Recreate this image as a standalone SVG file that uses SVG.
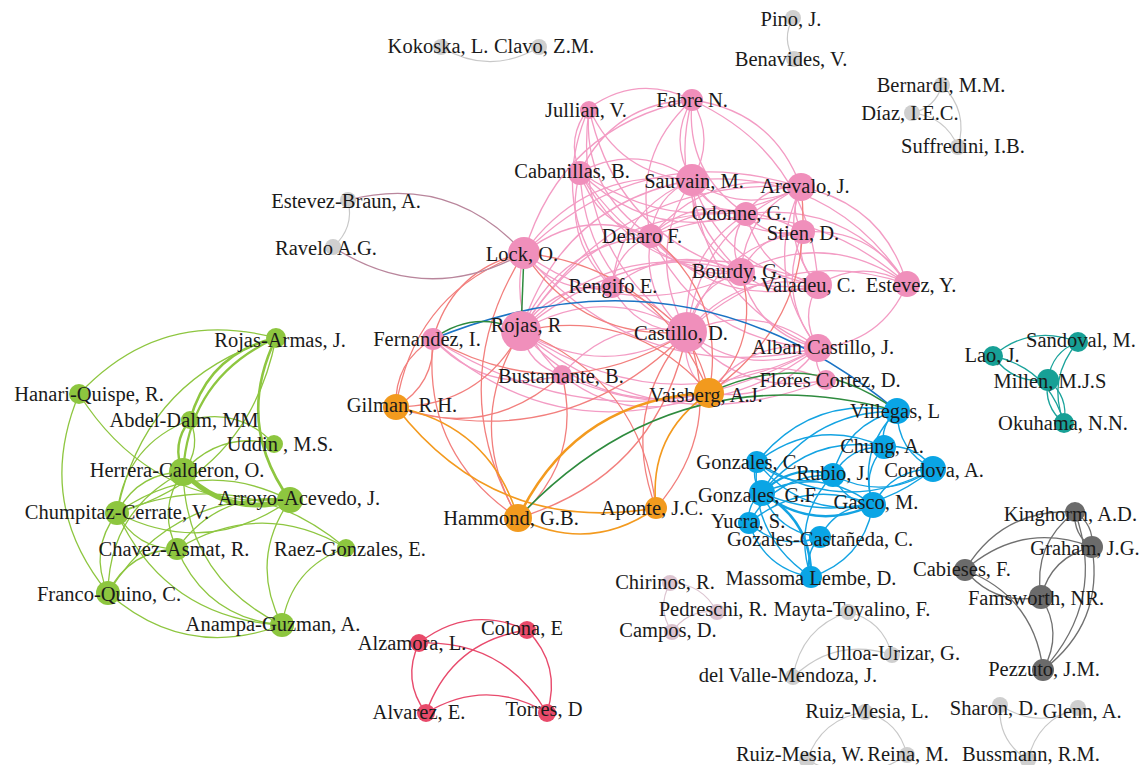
<svg xmlns="http://www.w3.org/2000/svg" xmlns:xlink="http://www.w3.org/1999/xlink" width="1139" height="765" viewBox="0 0 1139 765">
<defs>
<path id="c" d="M0 0Q.5 .3 1 0" fill="none" vector-effect="non-scaling-stroke"/>
<path id="s" d="M0 0L1 0" fill="none" vector-effect="non-scaling-stroke"/>
<style>
text{font-family:"Liberation Serif",serif;font-size:20.5px;fill:#1a1a1a;text-anchor:middle}
.ep{stroke:#f39cc4;stroke-width:1.3}
.es{stroke:#f27f7d;stroke-width:1.3}
.eo{stroke:#f39a1f;stroke-width:1.6}
.eg{stroke:#8ec640;stroke-width:1.3}
.ed{stroke:#2e8b3e;stroke-width:1.5}
.eb{stroke:#1a73c4;stroke-width:1.6}
.ec{stroke:#13a3e2;stroke-width:1.4}
.et{stroke:#1aa39b;stroke-width:1.3}
.ek{stroke:#707070;stroke-width:1.3}
.el{stroke:#c8c8c8;stroke-width:1.2}
.em{stroke:#b9869c;stroke-width:1.3}
.en{stroke:#dcc4d0;stroke-width:1.2}
.er{stroke:#e84a6c;stroke-width:1.4}
.p{fill:#f08fbb}.o{fill:#f29a1e}.b{fill:#0aa5e5}.t{fill:#17a096}.g{fill:#8dc63f}.r{fill:#e84a6a}.k{fill:#6b6b6b}.l{fill:#cfcfcf}.m{fill:#dcc4d0}
</style>
</defs>
<rect width="1139" height="765" fill="#fff"/>
<g id="edges">
<g class="ep">
<use href="#c" transform="matrix(-103 8 -8 -103 692 100)"/>
<use href="#c" transform="matrix(-9 64 -64 -9 589 108)"/>
<use href="#c" transform="matrix(103 72 -72 103 589 108)"/>
<use href="#c" transform="matrix(62 128 -128 62 589 108)"/>
<use href="#c" transform="matrix(23 179 -179 23 589 108)"/>
<use href="#c" transform="matrix(152 164 -164 152 589 108)"/>
<use href="#c" transform="matrix(98 224 -224 98 589 108)"/>
<use href="#c" transform="matrix(0 80 -80 0 692 100)"/>
<use href="#c" transform="matrix(0 -80 80 0 692 180)"/>
<use href="#c" transform="matrix(-109 -87 87 -109 801 187)"/>
<use href="#c" transform="matrix(-112 72 -72 -112 692 100)"/>
<use href="#c" transform="matrix(-41 136 -136 -41 692 100)"/>
<use href="#c" transform="matrix(54 114 -114 54 692 100)"/>
<use href="#c" transform="matrix(49 172 -172 49 692 100)"/>
<use href="#c" transform="matrix(-126 -185 185 -126 818 285)"/>
<use href="#c" transform="matrix(-168 153 -153 -168 692 100)"/>
<use href="#c" transform="matrix(-112 -8 8 -112 692 180)"/>
<use href="#c" transform="matrix(221 15 -15 221 580 172)"/>
<use href="#c" transform="matrix(71 64 -64 71 580 172)"/>
<use href="#c" transform="matrix(166 42 -42 166 580 172)"/>
<use href="#c" transform="matrix(32 115 -115 32 580 172)"/>
<use href="#c" transform="matrix(161 100 -100 161 580 172)"/>
<use href="#c" transform="matrix(107 160 -160 107 580 172)"/>
<use href="#c" transform="matrix(238 113 -113 238 580 172)"/>
<use href="#c" transform="matrix(109 7 -7 109 692 180)"/>
<use href="#c" transform="matrix(54 34 -34 54 692 180)"/>
<use href="#c" transform="matrix(111 52 -52 111 692 180)"/>
<use href="#c" transform="matrix(-41 56 -56 -41 692 180)"/>
<use href="#c" transform="matrix(49 92 -92 49 692 180)"/>
<use href="#c" transform="matrix(126 105 -105 126 692 180)"/>
<use href="#c" transform="matrix(-215 -104 104 -215 907 284)"/>
<use href="#c" transform="matrix(-168 73 -73 -168 692 180)"/>
<use href="#c" transform="matrix(-5 152 -152 -5 692 180)"/>
<use href="#c" transform="matrix(-80 107 -107 -80 692 180)"/>
<use href="#c" transform="matrix(-171 151 -151 -171 692 180)"/>
<use href="#c" transform="matrix(126 168 -168 126 692 180)"/>
<use href="#c" transform="matrix(-55 27 -27 -55 801 187)"/>
<use href="#c" transform="matrix(2 45 -45 2 801 187)"/>
<use href="#c" transform="matrix(-150 49 -49 -150 801 187)"/>
<use href="#c" transform="matrix(-60 85 -85 -60 801 187)"/>
<use href="#c" transform="matrix(17 98 -98 17 801 187)"/>
<use href="#c" transform="matrix(-106 -97 97 -106 907 284)"/>
<use href="#c" transform="matrix(-114 145 -145 -114 801 187)"/>
<use href="#c" transform="matrix(17 161 -161 17 801 187)"/>
<use href="#c" transform="matrix(-280 144 -144 -280 801 187)"/>
<use href="#c" transform="matrix(-277 66 -66 -277 801 187)"/>
<use href="#c" transform="matrix(57 18 -18 57 746 214)"/>
<use href="#c" transform="matrix(-95 22 -22 -95 746 214)"/>
<use href="#c" transform="matrix(-5 58 -58 -5 746 214)"/>
<use href="#c" transform="matrix(72 71 -71 72 746 214)"/>
<use href="#c" transform="matrix(-161 -70 70 -161 907 284)"/>
<use href="#c" transform="matrix(-59 118 -118 -59 746 214)"/>
<use href="#c" transform="matrix(-225 117 -117 -225 746 214)"/>
<use href="#c" transform="matrix(-152 4 -4 -152 803 232)"/>
<use href="#c" transform="matrix(-62 40 -40 -62 803 232)"/>
<use href="#c" transform="matrix(15 53 -53 15 803 232)"/>
<use href="#c" transform="matrix(-104 -52 52 -104 907 284)"/>
<use href="#c" transform="matrix(15 116 -116 15 803 232)"/>
<use href="#c" transform="matrix(-116 100 -100 -116 803 232)"/>
<use href="#c" transform="matrix(90 36 -36 90 651 236)"/>
<use href="#c" transform="matrix(167 49 -49 167 651 236)"/>
<use href="#c" transform="matrix(-127 17 -17 -127 651 236)"/>
<use href="#c" transform="matrix(-39 51 -51 -39 651 236)"/>
<use href="#c" transform="matrix(-130 95 -95 -130 651 236)"/>
<use href="#c" transform="matrix(36 96 -96 36 651 236)"/>
<use href="#c" transform="matrix(167 112 -112 167 651 236)"/>
<use href="#c" transform="matrix(-256 -48 48 -256 907 284)"/>
<use href="#c" transform="matrix(88 34 -34 88 524 253)"/>
<use href="#c" transform="matrix(38 122 -122 38 524 253)"/>
<use href="#c" transform="matrix(217 19 -19 217 524 253)"/>
<use href="#c" transform="matrix(294 95 -95 294 524 253)"/>
<use href="#c" transform="matrix(77 13 -13 77 741 272)"/>
<use href="#c" transform="matrix(-166 -12 12 -166 907 284)"/>
<use href="#c" transform="matrix(77 76 -76 77 741 272)"/>
<use href="#c" transform="matrix(-54 60 -60 -54 741 272)"/>
<use href="#c" transform="matrix(-220 59 -59 -220 741 272)"/>
<use href="#c" transform="matrix(-129 15 -15 -129 741 272)"/>
<use href="#c" transform="matrix(-89 1 -1 -89 907 284)"/>
<use href="#c" transform="matrix(0 63 -63 0 818 285)"/>
<use href="#c" transform="matrix(-131 47 -47 -131 818 285)"/>
<use href="#c" transform="matrix(-297 46 -46 -297 818 285)"/>
<use href="#c" transform="matrix(89 -64 64 89 818 348)"/>
<use href="#c" transform="matrix(-220 48 -48 -220 907 284)"/>
<use href="#c" transform="matrix(-91 44 -44 -91 612 287)"/>
<use href="#c" transform="matrix(75 45 -45 75 612 287)"/>
<use href="#c" transform="matrix(166 1 -1 166 521 331)"/>
<use href="#c" transform="matrix(-166 -1 1 -166 687 332)"/>
<use href="#c" transform="matrix(41 44 -44 41 521 331)"/>
<use href="#c" transform="matrix(297 17 -17 297 521 331)"/>
<use href="#c" transform="matrix(305 49 -49 305 521 331)"/>
<use href="#c" transform="matrix(129 36 -36 129 433 339)"/>
<use href="#c" transform="matrix(385 9 -9 385 433 339)"/>
<use href="#c" transform="matrix(276 54 -54 276 433 339)"/>
<use href="#c" transform="matrix(-131 -16 16 -131 818 348)"/>
<use href="#c" transform="matrix(131 16 -16 131 687 332)"/>
<use href="#c" transform="matrix(-125 43 -43 -125 687 332)"/>
<use href="#c" transform="matrix(139 48 -48 139 687 332)"/>
<use href="#c" transform="matrix(22 61 -61 22 687 332)"/>
<use href="#c" transform="matrix(8 32 -32 8 818 348)"/>
<use href="#c" transform="matrix(109 -45 45 109 709 393)"/>
<use href="#c" transform="matrix(-109 45 -45 -109 818 348)"/>
<use href="#c" transform="matrix(-117 13 -13 -117 826 380)"/>
<use href="#c" transform="matrix(147 18 -18 147 562 375)"/>
<use href="#c" transform="matrix(188 62 -62 188 521 331)"/>
<use href="#c" transform="matrix(256 -27 27 256 562 375)"/>
</g>
<g class="es">
<use href="#c" transform="matrix(37 -68 68 37 396 407)"/>
<use href="#c" transform="matrix(-37 68 -68 -37 433 339)"/>
<use href="#c" transform="matrix(-128 154 -154 -128 524 253)"/>
<use href="#c" transform="matrix(125 -76 76 125 396 407)"/>
<use href="#c" transform="matrix(291 -75 75 291 396 407)"/>
<use href="#c" transform="matrix(166 -32 32 166 396 407)"/>
<use href="#c" transform="matrix(-6 265 -265 -6 524 253)"/>
<use href="#c" transform="matrix(-3 187 -187 -3 521 331)"/>
<use href="#c" transform="matrix(85 179 -179 85 433 339)"/>
<use href="#c" transform="matrix(169 -186 186 169 518 518)"/>
<use href="#c" transform="matrix(44 -143 143 44 518 518)"/>
<use href="#c" transform="matrix(-135 -177 177 -135 656 508)"/>
<use href="#c" transform="matrix(31 -176 176 31 656 508)"/>
<use href="#c" transform="matrix(-31 176 -176 -31 687 332)"/>
<use href="#c" transform="matrix(-185 -140 140 -185 709 393)"/>
<use href="#c" transform="matrix(92 -206 206 92 709 393)"/>
<use href="#c" transform="matrix(32 -121 121 32 709 393)"/>
<use href="#c" transform="matrix(-58 -157 157 -58 709 393)"/>
<use href="#c" transform="matrix(-97 -106 106 -97 709 393)"/>
<use href="#c" transform="matrix(-188 -62 62 -188 709 393)"/>
<use href="#c" transform="matrix(254 -7 7 254 433 339)"/>
<use href="#c" transform="matrix(163 79 -79 163 524 253)"/>
<use href="#c" transform="matrix(-91 86 -86 -91 524 253)"/>
</g>
<g class="eo">
<use href="#c" transform="matrix(-191 125 -125 -191 709 393)" style="stroke-width:2.6"/>
<use href="#c" transform="matrix(260 101 -101 260 396 407)"/>
<use href="#c" transform="matrix(-122 -111 111 -122 518 518)"/>
<use href="#c" transform="matrix(138 -10 10 138 518 518)"/>
<use href="#c" transform="matrix(-53 115 -115 -53 709 393)"/>
</g>
<g class="eb">
<use href="#c" transform="matrix(-464 -72 72 -464 897 411)"/>
</g>
<g class="ed">
<use href="#c" transform="matrix(-188 -18 18 -188 897 411)"/>
<use href="#c" transform="matrix(-379 107 -107 -379 897 411)"/>
<use href="#s" transform="matrix(-3 78 -78 -3 524 253)"/>
<use href="#c" transform="matrix(-88 8 -8 -88 521 331)"/>
</g>
<g class="el">
<use href="#c" transform="matrix(98 0 0 98 441 47)"/>
<use href="#c" transform="matrix(1 41 -41 1 793 18)"/>
<use href="#c" transform="matrix(-16 -62 62 -16 958 147)"/>
<use href="#c" transform="matrix(30 -28 28 30 912 113)"/>
<use href="#c" transform="matrix(-46 -34 34 -46 958 147)"/>
<use href="#c" transform="matrix(15 -47 47 15 333 247)"/>
<use href="#c" transform="matrix(-55 65 -65 -55 848 612)"/>
<use href="#c" transform="matrix(-44 -43 43 -44 892 655)"/>
<use href="#c" transform="matrix(-99 22 -22 -99 892 655)"/>
<use href="#c" transform="matrix(-58 48 -48 -58 865 712)"/>
<use href="#c" transform="matrix(-42 -43 43 -42 907 755)"/>
<use href="#c" transform="matrix(100 -5 5 100 807 760)"/>
<use href="#c" transform="matrix(78 3 -3 78 1000 705)"/>
<use href="#c" transform="matrix(28 55 -55 28 1000 705)"/>
<use href="#c" transform="matrix(-50 52 -52 -50 1078 708)"/>
</g>
<g class="em">
<use href="#c" transform="matrix(-176 -53 53 -176 524 253)"/>
<use href="#c" transform="matrix(191 6 -6 191 333 247)"/>
</g>
<g class="en">
<use href="#c" transform="matrix(2 49 -49 2 670 583)"/>
<use href="#c" transform="matrix(-47 -29 29 -47 717 612)"/>
<use href="#c" transform="matrix(-45 20 -20 -45 717 612)"/>
</g>
<g class="er">
<use href="#c" transform="matrix(-108 13 -13 -108 527 630)"/>
<use href="#c" transform="matrix(7 70 -70 7 419 643)"/>
<use href="#c" transform="matrix(-20 -83 83 -20 547 713)"/>
<use href="#c" transform="matrix(-121 0 0 -121 547 713)"/>
<use href="#c" transform="matrix(-128 -70 70 -128 547 713)"/>
<use href="#c" transform="matrix(-101 83 -83 -101 527 630)"/>
</g>
<g class="et">
<use href="#c" transform="matrix(-85 14 -14 -85 1078 342)"/>
<use href="#c" transform="matrix(55 24 -24 55 993 356)"/>
<use href="#c" transform="matrix(-71 -67 67 -71 1064 423)"/>
<use href="#c" transform="matrix(-30 38 -38 -30 1078 342)"/>
<use href="#c" transform="matrix(-14 81 -81 -14 1078 342)"/>
<use href="#c" transform="matrix(16 43 -43 16 1048 380)"/>
<use href="#c" transform="matrix(-16 -43 43 -16 1064 423)"/>
</g>
<g class="ek">
<use href="#c" transform="matrix(-110 58 -58 -110 1075 512)"/>
<use href="#c" transform="matrix(-127 23 -23 -127 1092 547)"/>
<use href="#c" transform="matrix(76 27 -27 76 965 570)"/>
<use href="#c" transform="matrix(-78 -100 100 -78 1043 670)"/>
<use href="#c" transform="matrix(17 35 -35 17 1075 512)"/>
<use href="#c" transform="matrix(-17 -35 35 -17 1092 547)"/>
<use href="#c" transform="matrix(-34 85 -85 -34 1075 512)"/>
<use href="#c" transform="matrix(-51 50 -50 -51 1092 547)"/>
<use href="#c" transform="matrix(-2 -73 73 -2 1043 670)"/>
<use href="#c" transform="matrix(32 -158 158 32 1043 670)"/>
<use href="#c" transform="matrix(49 -123 123 49 1043 670)"/>
</g>
<g class="eg">
<use href="#c" transform="matrix(-197 56 -56 -197 276 338)"/>
<use href="#c" transform="matrix(29 199 -199 29 79 394)"/>
<use href="#c" transform="matrix(174 32 -32 174 108 593)"/>
<use href="#c" transform="matrix(14 162 -162 14 276 338)" style="stroke-width:2.6"/>
<use href="#c" transform="matrix(-86 82 -82 -86 276 338)" style="stroke-width:2.6"/>
<use href="#c" transform="matrix(-93 134 -134 -93 276 338)" style="stroke-width:2.2"/>
<use href="#c" transform="matrix(-159 175 -175 -159 276 338)"/>
<use href="#c" transform="matrix(159 -175 175 159 117 513)"/>
<use href="#c" transform="matrix(211 106 -106 211 79 394)"/>
<use href="#c" transform="matrix(-7 52 -52 -7 190 420)" style="stroke-width:2.4"/>
<use href="#c" transform="matrix(7 -52 52 7 183 472)"/>
<use href="#c" transform="matrix(-84 -24 24 -84 274 444)"/>
<use href="#c" transform="matrix(-73 93 -93 -73 190 420)"/>
<use href="#c" transform="matrix(-91 28 -28 -91 274 444)"/>
<use href="#c" transform="matrix(107 28 -28 107 183 472)" style="stroke-width:5"/>
<use href="#c" transform="matrix(-66 41 -41 -66 183 472)"/>
<use href="#c" transform="matrix(-6 77 -77 -6 183 472)"/>
<use href="#c" transform="matrix(-75 121 -121 -75 183 472)"/>
<use href="#c" transform="matrix(99 153 -153 99 183 472)"/>
<use href="#c" transform="matrix(-173 13 -13 -173 290 500)"/>
<use href="#c" transform="matrix(173 -13 13 173 117 513)"/>
<use href="#c" transform="matrix(-113 49 -49 -113 290 500)"/>
<use href="#c" transform="matrix(-182 93 -93 -182 290 500)"/>
<use href="#c" transform="matrix(-8 125 -125 -8 290 500)"/>
<use href="#c" transform="matrix(-229 -35 35 -229 346 548)"/>
<use href="#c" transform="matrix(60 36 -36 60 117 513)"/>
<use href="#c" transform="matrix(-9 80 -80 -9 117 513)"/>
<use href="#c" transform="matrix(165 112 -112 165 117 513)"/>
<use href="#c" transform="matrix(-69 44 -44 -69 177 549)"/>
<use href="#c" transform="matrix(105 76 -76 105 177 549)"/>
<use href="#c" transform="matrix(-169 1 -1 -169 346 548)"/>
<use href="#c" transform="matrix(-64 77 -77 -64 346 548)"/>
</g>
<g class="ec">
<use href="#c" transform="matrix(-140 51 -51 -140 897 411)"/>
<use href="#c" transform="matrix(-13 36 -36 -13 897 411)"/>
<use href="#c" transform="matrix(36 58 -58 36 897 411)"/>
<use href="#c" transform="matrix(-64 64 -64 -64 897 411)"/>
<use href="#c" transform="matrix(-135 82 -82 -135 897 411)"/>
<use href="#c" transform="matrix(-24 94 -94 -24 897 411)"/>
<use href="#c" transform="matrix(-49 -22 22 -49 933 469)"/>
<use href="#c" transform="matrix(-51 28 -28 -51 884 447)"/>
<use href="#c" transform="matrix(-11 58 -58 -11 884 447)"/>
<use href="#c" transform="matrix(-127 15 -15 -127 884 447)"/>
<use href="#c" transform="matrix(-122 46 -46 -122 884 447)"/>
<use href="#c" transform="matrix(100 -6 6 100 833 475)"/>
<use href="#c" transform="matrix(-60 36 -36 -60 933 469)"/>
<use href="#c" transform="matrix(171 -24 24 171 762 493)"/>
<use href="#c" transform="matrix(176 7 -7 176 757 462)"/>
<use href="#c" transform="matrix(76 13 -13 76 757 462)"/>
<use href="#c" transform="matrix(-71 18 -18 -71 833 475)" style="stroke-width:2.2"/>
<use href="#c" transform="matrix(40 30 -30 40 833 475)"/>
<use href="#c" transform="matrix(-84 48 -48 -84 833 475)"/>
<use href="#c" transform="matrix(-22 102 -102 -22 833 475)"/>
<use href="#c" transform="matrix(5 31 -31 5 757 462)"/>
<use href="#c" transform="matrix(116 43 -43 116 757 462)"/>
<use href="#c" transform="matrix(111 12 -12 111 762 493)" style="stroke-width:2.4"/>
<use href="#c" transform="matrix(-111 -12 12 -111 873 505)"/>
<use href="#c" transform="matrix(-13 30 -30 -13 762 493)"/>
<use href="#c" transform="matrix(58 44 -44 58 762 493)"/>
<use href="#c" transform="matrix(-49 -84 84 -49 811 577)" style="stroke-width:2.6"/>
<use href="#c" transform="matrix(-124 18 -18 -124 873 505)"/>
<use href="#c" transform="matrix(-53 32 -32 -53 873 505)"/>
<use href="#c" transform="matrix(62 -72 72 62 811 577)"/>
<use href="#c" transform="matrix(62 54 -54 62 749 523)"/>
<use href="#c" transform="matrix(-9 40 -40 -9 820 537)"/>
<use href="#c" transform="matrix(54 115 -115 54 757 462)"/>
<use href="#c" transform="matrix(71 14 -14 71 749 523)"/>
</g>
</g>
<g id="n-kokoska"><circle class="l" cx="441" cy="47" r="8"/><text x="438" y="53">Kokoska, L.</text></g>
<g id="n-clavo"><circle class="l" cx="539" cy="47" r="8"/><text x="544" y="53">Clavo, Z.M.</text></g>
<g id="n-pino"><circle class="l" cx="793" cy="18" r="8"/><text x="791" y="26">Pino, J.</text></g>
<g id="n-benavides"><circle class="l" cx="794" cy="59" r="8"/><text x="791" y="66">Benavides, V.</text></g>
<g id="n-bernardi"><circle class="l" cx="942" cy="85" r="8"/><text x="941" y="92">Bernardi, M.M.</text></g>
<g id="n-diaz"><circle class="l" cx="912" cy="113" r="8"/><text x="910" y="120">Díaz, I.E.C.</text></g>
<g id="n-suffredini"><circle class="l" cx="958" cy="147" r="8"/><text x="963" y="153">Suffredini, I.B.</text></g>
<g id="n-estevez-braun"><circle class="l" cx="348" cy="200" r="8"/><text x="346" y="208">Estevez-Braun, A.</text></g>
<g id="n-ravelo"><circle class="l" cx="333" cy="247" r="8"/><text x="326" y="255">Ravelo A.G.</text></g>
<g id="n-jullian"><circle class="p" cx="589" cy="110" r="9"/><text x="586" y="117">Jullian, V.</text></g>
<g id="n-fabre"><circle class="p" cx="692" cy="100" r="11"/><text x="692" y="107">Fabre N.</text></g>
<g id="n-cabanillas"><circle class="p" cx="580" cy="173" r="12"/><text x="572" y="178">Cabanillas, B.</text></g>
<g id="n-sauvain"><circle class="p" cx="692" cy="180" r="16"/><text x="694" y="188">Sauvain, M.</text></g>
<g id="n-arevalo"><circle class="p" cx="801" cy="187" r="14"/><text x="805" y="193">Arevalo, J.</text></g>
<g id="n-odonne"><circle class="p" cx="746" cy="214" r="12"/><text x="739" y="220">Odonne, G.</text></g>
<g id="n-stien"><circle class="p" cx="803" cy="232" r="12"/><text x="803" y="240">Stien, D.</text></g>
<g id="n-deharo"><circle class="p" cx="651" cy="236" r="12"/><text x="642" y="243">Deharo F.</text></g>
<g id="n-lock"><circle class="p" cx="524" cy="253" r="16"/><text x="522" y="261">Lock, O.</text></g>
<g id="n-bourdy"><circle class="p" cx="741" cy="272" r="14"/><text x="737" y="278">Bourdy, G.</text></g>
<g id="n-valadeu"><circle class="p" cx="818" cy="285" r="14"/><text x="808" y="292">Valadeu, C.</text></g>
<g id="n-estevez-y"><circle class="p" cx="907" cy="284" r="13"/><text x="911" y="292">Estevez, Y.</text></g>
<g id="n-rengifo"><circle class="p" cx="612" cy="287" r="11"/><text x="613" y="293">Rengifo E.</text></g>
<g id="n-rojas-r"><circle class="p" cx="521" cy="331" r="20"/><text x="526" y="332">Rojas, R</text></g>
<g id="n-fernandez"><circle class="p" cx="433" cy="339" r="11"/><text x="427" y="346">Fernandez, I.</text></g>
<g id="n-castillo"><circle class="p" cx="687" cy="332" r="20"/><text x="681" y="340">Castillo, D.</text></g>
<g id="n-bustamante"><circle class="p" cx="562" cy="375" r="10"/><text x="561" y="383">Bustamante, B.</text></g>
<g id="n-alban"><circle class="p" cx="818" cy="348" r="14"/><text x="823" y="354">Alban Castillo, J.</text></g>
<g id="n-flores"><circle class="p" cx="826" cy="380" r="10"/><text x="830" y="387">Flores Cortez, D.</text></g>
<g id="n-gilman"><circle class="o" cx="396" cy="407" r="13"/><text x="402" y="412">Gilman, R.H.</text></g>
<g id="n-vaisberg"><circle class="o" cx="709" cy="393" r="15"/><text x="706" y="402">Vaisberg, A.J.</text></g>
<g id="n-hammond"><circle class="o" cx="518" cy="518" r="14"/><text x="511" y="525">Hammond, G.B.</text></g>
<g id="n-aponte"><circle class="o" cx="656" cy="508" r="11"/><text x="652" y="515">Aponte, J.C.</text></g>
<g id="n-villegas"><circle class="b" cx="897" cy="411" r="13"/><text x="895" y="418">Villegas, L</text></g>
<g id="n-chung"><circle class="b" cx="884" cy="447" r="12"/><text x="882" y="453">Chung, A.</text></g>
<g id="n-cordova"><circle class="b" cx="933" cy="469" r="13"/><text x="934" y="477">Cordova, A.</text></g>
<g id="n-rubio"><circle class="b" cx="833" cy="475" r="12"/><text x="833" y="480">Rubio, J.</text></g>
<g id="n-gonzales-c"><circle class="b" cx="757" cy="462" r="11"/><text x="749" y="469">Gonzales, C.</text></g>
<g id="n-gonzales-gf"><circle class="b" cx="762" cy="493" r="13"/><text x="757" y="502">Gonzales, G.F</text></g>
<g id="n-gasco"><circle class="b" cx="873" cy="505" r="13"/><text x="876" y="509">Gasco, M.</text></g>
<g id="n-yucra"><circle class="b" cx="749" cy="523" r="11"/><text x="748" y="528">Yucra, S.</text></g>
<g id="n-gozales-castaneda"><circle class="b" cx="820" cy="537" r="11"/><text x="820" y="546">Gozales-Castañeda, C.</text></g>
<g id="n-massoma"><circle class="b" cx="811" cy="577" r="11"/><text x="811" y="585">Massoma Lembe, D.</text></g>
<g id="n-lao"><circle class="t" cx="993" cy="356" r="10"/><text x="992" y="362">Lao, J.</text></g>
<g id="n-sandoval"><circle class="t" cx="1078" cy="342" r="10"/><text x="1081" y="347">Sandoval, M.</text></g>
<g id="n-millen"><circle class="t" cx="1048" cy="380" r="11"/><text x="1050" y="388">Millen, M.J.S</text></g>
<g id="n-okuhama"><circle class="t" cx="1064" cy="423" r="10"/><text x="1063" y="430">Okuhama, N.N.</text></g>
<g id="n-kinghorm"><circle class="k" cx="1075" cy="512" r="10"/><text x="1137" y="521" style="text-anchor:end">Kinghorm, A.D.</text></g>
<g id="n-graham"><circle class="k" cx="1092" cy="547" r="11"/><text x="1085" y="555">Graham, J.G.</text></g>
<g id="n-cabieses"><circle class="k" cx="965" cy="570" r="11"/><text x="962" y="576">Cabieses, F.</text></g>
<g id="n-famsworth"><circle class="k" cx="1041" cy="597" r="12"/><text x="1036" y="605">Famsworth, NR.</text></g>
<g id="n-pezzuto"><circle class="k" cx="1043" cy="670" r="11"/><text x="1044" y="676">Pezzuto, J.M.</text></g>
<g id="n-chirinos"><circle class="m" cx="670" cy="583" r="8"/><text x="665" y="589">Chirinos, R.</text></g>
<g id="n-pedreschi"><circle class="m" cx="717" cy="612" r="8"/><text x="713" y="616">Pedreschi, R.</text></g>
<g id="n-campos"><circle class="m" cx="672" cy="632" r="8"/><text x="668" y="637">Campos, D.</text></g>
<g id="n-mayta"><circle class="l" cx="848" cy="612" r="8"/><text x="852" y="616">Mayta-Toyalino, F.</text></g>
<g id="n-ulloa"><circle class="l" cx="892" cy="655" r="8"/><text x="893" y="660">Ulloa-Urizar, G.</text></g>
<g id="n-delvalle"><circle class="l" cx="793" cy="677" r="8"/><text x="788" y="682">del Valle-Mendoza, J.</text></g>
<g id="n-ruiz-l"><circle class="l" cx="865" cy="712" r="8"/><text x="867" y="718">Ruiz-Mesia, L.</text></g>
<g id="n-ruiz-w"><circle class="l" cx="807" cy="760" r="8"/><text x="800" y="761">Ruiz-Mesia, W.</text></g>
<g id="n-reina"><circle class="l" cx="907" cy="755" r="8"/><text x="908" y="761">Reina, M.</text></g>
<g id="n-sharon"><circle class="l" cx="1000" cy="705" r="8"/><text x="994" y="715">Sharon, D.</text></g>
<g id="n-glenn"><circle class="l" cx="1078" cy="708" r="8"/><text x="1082" y="718">Glenn, A.</text></g>
<g id="n-bussmann"><circle class="l" cx="1028" cy="760" r="8"/><text x="1031" y="761">Bussmann, R.M.</text></g>
<g id="n-alzamora"><circle class="r" cx="419" cy="643" r="9"/><text x="412" y="650">Alzamora, L.</text></g>
<g id="n-colona"><circle class="r" cx="527" cy="630" r="9"/><text x="522" y="635">Colona, E</text></g>
<g id="n-alvarez"><circle class="r" cx="426" cy="713" r="9"/><text x="419" y="719">Alvarez, E.</text></g>
<g id="n-torres"><circle class="r" cx="547" cy="713" r="9"/><text x="544" y="716">Torres, D</text></g>
<g id="n-rojas-armas"><circle class="g" cx="276" cy="338" r="10"/><text x="280" y="347">Rojas-Armas, J.</text></g>
<g id="n-hanari"><circle class="g" cx="79" cy="394" r="10"/><text x="89" y="401">Hanari-Quispe, R.</text></g>
<g id="n-abdel"><circle class="g" cx="190" cy="420" r="9"/><text x="184" y="427">Abdel-Dalm, MM</text></g>
<g id="n-uddin"><circle class="g" cx="274" cy="444" r="9"/><text x="280" y="451">Uddin , M.S.</text></g>
<g id="n-herrera"><circle class="g" cx="183" cy="472" r="14"/><text x="177" y="477">Herrera-Calderon, O.</text></g>
<g id="n-arroyo"><circle class="g" cx="290" cy="500" r="13"/><text x="299" y="505">Arroyo-Acevedo, J.</text></g>
<g id="n-chumpitaz"><circle class="g" cx="117" cy="513" r="12"/><text x="117" y="519">Chumpitaz-Cerrate, V.</text></g>
<g id="n-chavez"><circle class="g" cx="177" cy="549" r="11"/><text x="174" y="556">Chavez-Asmat, R.</text></g>
<g id="n-raez"><circle class="g" cx="346" cy="548" r="9"/><text x="350" y="556">Raez-Gonzales, E.</text></g>
<g id="n-franco"><circle class="g" cx="108" cy="593" r="12"/><text x="109" y="601">Franco-Quino, C.</text></g>
<g id="n-anampa"><circle class="g" cx="282" cy="625" r="12"/><text x="273" y="631">Anampa-Guzman, A.</text></g>
</svg>
